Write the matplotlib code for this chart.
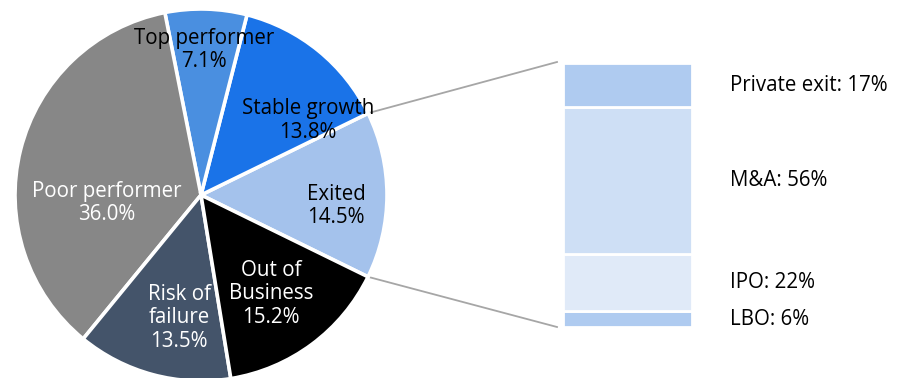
"""
Pie de estado de empresas con desglose en barra de la porción 'Exited'.
"""
import numpy as np
import matplotlib.pyplot as plt

# datos del pie (en orden antihorario empezando por Exited)
categorias = ['Exited', 'Stable growth', 'Top performer', 'Poor performer',
              'Risk of\nfailure', 'Out of\nBusiness']
valores = [14.5, 13.8, 7.1, 36.0, 13.5, 15.2]

# desglose de Exited (de abajo arriba)
salidas = ['LBO', 'IPO', 'M&A', 'Private exit']
salidas_pct = [6, 22, 56, 17]

# estilo
colores_pie = ['#A4C2EC', '#1A73E8', '#4A8FE0', '#878787', '#44546A', '#000000']
colores_texto = ['black', 'black', 'black', 'white', 'white', 'white']
colores_barra = ['#AFCBF0', '#E0EAF8', '#CEDFF5', '#AFCBF0']
# posicion de las etiquetas: (angulo en grados, radio relativo)
pos_etiquetas = [(-4.6, 0.73), (34.8, 0.70), (88.8, 0.78), (184.8, 0.51),
                 (259.9, 0.67), (305.3, 0.65)]

W, H = 902, 378
cx, cy, R = 201, H - 195, 186
bar_x0, bar_x1 = 563, 692
bar_top, bar_bot = H - 63, H - 327
fuente = 'Open Sans'
tam = 14.8

fig = plt.figure(figsize=(W / 100, H / 100), dpi=100)
ax = fig.add_axes([0, 0, 1, 1])

inicio = -valores[0] * 3.6 / 2
wedges, _ = ax.pie(valores, colors=colores_pie, startangle=inicio,
                   counterclock=True, center=(cx, cy), radius=R, frame=True,
                   wedgeprops=dict(edgecolor='white', linewidth=2.6))

for cat, val, col, (ang, r) in zip(categorias, valores, colores_texto, pos_etiquetas):
    a = np.deg2rad(ang)
    ax.text(cx + r * R * np.cos(a), cy + r * R * np.sin(a), f'{cat}\n{val:.1f}%',
            ha='center', va='center', color=col, fontsize=tam, family=fuente,
            linespacing=1.15)

# barra apilada
escala = (bar_top - bar_bot) / sum(salidas_pct)
base = bar_bot
for nombre, pct, col in zip(salidas, salidas_pct, colores_barra):
    h = pct * escala
    ax.bar((bar_x0 + bar_x1) / 2, h, width=bar_x1 - bar_x0, bottom=base,
           color=col, edgecolor='white', linewidth=2)
    ax.text(730, base + h / 2, f'{nombre}: {pct}%', ha='left', va='center',
            fontsize=tam, family=fuente, color='black')
    base += h

# lineas de conexion
t1 = np.deg2rad(-inicio)
t0 = np.deg2rad(inicio)
ax.plot([cx + R * np.cos(t1), 557], [cy + R * np.sin(t1), bar_top + 1],
        color='#A6A6A6', linewidth=1.3, zorder=0)
ax.plot([cx + R * np.cos(t0), 557], [cy + R * np.sin(t0), bar_bot],
        color='#A6A6A6', linewidth=1.3, zorder=0)

ax.set_xlim(0, W)
ax.set_ylim(0, H)
ax.set_aspect('equal')
ax.axis('off')

fig.savefig('out.png', dpi=100)
